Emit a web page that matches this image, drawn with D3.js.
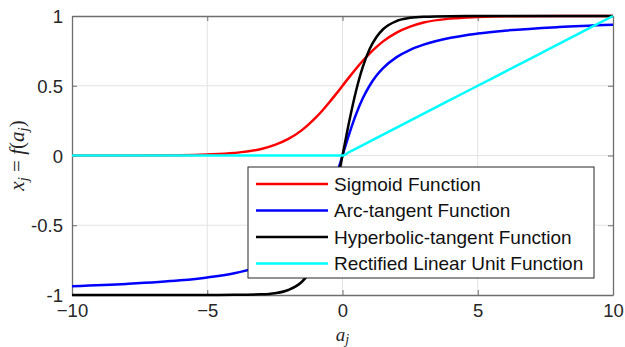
<!DOCTYPE html>
<html>
<head>
<meta charset="utf-8">
<script src="https://cdn.jsdelivr.net/npm/d3@7"></script>
<style>
  body { margin: 0; background: #fff; }
  svg { display: block; font-family: "Liberation Sans", Arial, sans-serif; }
  .axis text { font-size: 18.5px; fill: #262626; }
  .grid line { stroke: #e3e3e3; stroke-width: 1; }
  .math { font-family: "Liberation Serif", "DejaVu Serif", serif; fill: #262626; }
</style>
</head>
<body>
<div class="interactive-wrapper"></div>
<script>
// sample positions along a_j
const xs = [-10, -8, -6, -5, -4, -3, -2.5, -2, -1.5, -1.25, -1, -0.75, -0.5, -0.25, 0,
  0.25, 0.5, 0.75, 1, 1.25, 1.5, 2, 2.5, 3, 4, 5, 6, 8, 10];

const sigmoidVals = [0.000, 0.000, 0.002, 0.007, 0.018, 0.047, 0.076, 0.119, 0.182, 0.223, 0.269, 0.321, 0.378, 0.438, 0.5,
  0.562, 0.622, 0.679, 0.731, 0.777, 0.818, 0.881, 0.924, 0.953, 0.982, 0.993, 0.998, 1.000, 1.000];

const arctanVals = [-0.937, -0.921, -0.895, -0.874, -0.844, -0.795, -0.758, -0.705, -0.626, -0.571, -0.5, -0.410, -0.295, -0.156, 0,
  0.156, 0.295, 0.410, 0.5, 0.571, 0.626, 0.705, 0.758, 0.795, 0.844, 0.874, 0.895, 0.921, 0.937];

const tanhVals = [-1.000, -1.000, -1.000, -1.000, -0.999, -0.995, -0.987, -0.964, -0.905, -0.848, -0.762, -0.635, -0.462, -0.245, 0,
  0.245, 0.462, 0.635, 0.762, 0.848, 0.905, 0.964, 0.987, 0.995, 0.999, 1.000, 1.000, 1.000, 1.000];

const reluVals = [0, 0, 0, 0, 0, 0, 0, 0, 0, 0, 0, 0, 0, 0, 0,
  0.025, 0.05, 0.075, 0.1, 0.125, 0.15, 0.2, 0.25, 0.3, 0.4, 0.5, 0.6, 0.8, 1.0];

const seriesNames = ['Sigmoid Function', 'Arc-tangent Function', 'Hyperbolic-tangent Function', 'Rectified Linear Unit Function'];
const seriesColors = ['#ff0000', '#0000ff', '#000000', '#00ffff'];
const seriesVals = [sigmoidVals, arctanVals, tanhVals, reluVals];

const xTicks = [-10, -5, 0, 5, 10];
const yTicks = [-1, -0.5, 0, 0.5, 1];

let w = 625, h = 347;
let margin = {top: 16, right: 12, bottom: 52, left: 72};
let width = w - margin.left - margin.right;
let height = h - margin.top - margin.bottom;

let xScale = d3.scaleLinear().domain([-10, 10]).range([0, width]);
let yScale = d3.scaleLinear().domain([-1, 1]).range([height, 0]);

let svg = d3.select('.interactive-wrapper').append('svg')
  .attr('width', w)
  .attr('height', h)
  .append('g')
  .attr('transform', 'translate(' + margin.left + ',' + margin.top + ')');

// grid
svg.append('g').attr('class', 'grid')
  .selectAll('line.gx')
  .data(xTicks.slice(1, -1))
  .enter().append('line')
  .attr('x1', d => xScale(d)).attr('x2', d => xScale(d))
  .attr('y1', 0).attr('y2', height);

svg.append('g').attr('class', 'grid')
  .selectAll('line.gy')
  .data(yTicks.slice(1, -1))
  .enter().append('line')
  .attr('y1', d => yScale(d)).attr('y2', d => yScale(d))
  .attr('x1', 0).attr('x2', width);

// axes (ticks point inward)
let xaxis = svg.append('g')
  .attr('class', 'x axis')
  .attr('transform', 'translate(0,' + height + ')')
  .call(d3.axisBottom(xScale).tickValues(xTicks).tickSizeInner(-5).tickSizeOuter(0).tickPadding(9).tickFormat(d3.format('d')));

let xaxisTop = svg.append('g')
  .attr('class', 'x axis top')
  .call(d3.axisTop(xScale).tickValues(xTicks).tickSizeInner(-5).tickSizeOuter(0).tickFormat(''));

let yaxis = svg.append('g')
  .attr('class', 'y axis')
  .call(d3.axisLeft(yScale).tickValues(yTicks).tickSizeInner(-5).tickSizeOuter(0).tickPadding(9).tickFormat(d => d));

let yaxisRight = svg.append('g')
  .attr('class', 'y axis right')
  .attr('transform', 'translate(' + width + ',0)')
  .call(d3.axisRight(yScale).tickValues(yTicks).tickSizeInner(-5).tickSizeOuter(0).tickFormat(''));

svg.selectAll('.axis .domain').attr('stroke', '#6e6e6e').attr('stroke-width', 1.3);
svg.selectAll('.axis line').attr('stroke', '#6e6e6e');
svg.selectAll('.y.axis text').attr('dy', '0.36em');

// curves
let line = d3.line()
  .x(d => xScale(d[0]))
  .y(d => yScale(d[1]))
  .curve(d3.curveMonotoneX);

seriesVals.forEach((vals, i) => {
  svg.append('path')
    .datum(xs.map((x, j) => [x, vals[j]]))
    .attr('fill', 'none')
    .attr('stroke', seriesColors[i])
    .attr('stroke-width', 2.5)
    .attr('stroke-linejoin', 'round')
    .attr('d', line);
});

// legend
let legend = svg.append('g').attr('transform', 'translate(' + (248 - margin.left) + ',' + (167 - margin.top) + ')');
legend.append('rect')
  .attr('width', 346).attr('height', 111)
  .attr('fill', '#fff').attr('stroke', '#262626').attr('stroke-width', 1);

seriesNames.forEach((name, i) => {
  let yy = 17 + i * 26.5;
  legend.append('line')
    .attr('x1', 8).attr('x2', 80).attr('y1', yy).attr('y2', yy)
    .attr('stroke', seriesColors[i]).attr('stroke-width', 2.5);
  legend.append('text')
    .attr('x', 86).attr('y', yy).attr('dy', '0.36em')
    .style('font-size', '19px').attr('fill', '#111')
    .text(name);
});

// axis labels
let xl = svg.append('text').attr('class', 'math')
  .attr('x', xScale(0)).attr('y', height + 46)
  .attr('text-anchor', 'middle').style('font-size', '19px');
xl.append('tspan').style('font-style', 'italic').text('a');
xl.append('tspan').style('font-style', 'italic').style('font-size', '14px').attr('dy', 3).text('j');

let yl = svg.append('text').attr('class', 'math')
  .attr('transform', 'translate(' + (-48) + ',' + yScale(0) + ') rotate(-90)')
  .attr('text-anchor', 'middle').style('font-size', '21px');
yl.append('tspan').style('font-style', 'italic').text('x');
yl.append('tspan').style('font-style', 'italic').style('font-size', '15px').attr('dy', 4).text('j');
yl.append('tspan').attr('dy', -4).text(' = ');
yl.append('tspan').style('font-style', 'italic').text('f');
yl.append('tspan').text('(');
yl.append('tspan').style('font-style', 'italic').text('a');
yl.append('tspan').style('font-style', 'italic').style('font-size', '15px').attr('dy', 4).text('j');
yl.append('tspan').attr('dy', -4).text(')');
</script>
</body>
</html>
